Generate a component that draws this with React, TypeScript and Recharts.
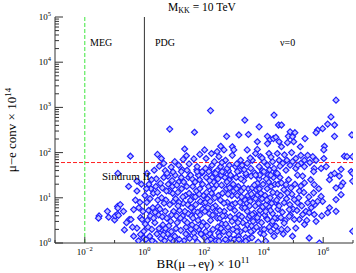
import { ReferenceLine, Scatter, ScatterChart, XAxis, YAxis } from "recharts";

// each point: [log10 BR(mu->e gamma) x 1e11, log10 (mu-e conv x 1e14)]
const points: [number, number][] = [
  // sparse left part
  [-1.52, 0.6], [-1.54, 0.55], [-1.24, 0.7], [-1.2, 0.57], [-1.0, 0.51], [-0.98, 0.6],
  [-0.9, 0.81], [-0.81, 0.85], [-0.9, 0.64], [-0.87, 0.61], [-0.7, 0.7], [-0.89, 0.77],
  [-0.53, 1.25], [-0.51, 0.52], [-0.67, 0.29], [-0.89, 1.54], [-0.47, 1.92],
  [-0.25, 1.15], [-0.19, 0.78], [-0.36, 0.74], [-0.13, 0.56], [-0.08, 0.52], [-0.25, 0.33],
  [-0.36, 0.15], [-0.13, 0.19], [-0.02, 0.26], [-0.45, 0.52], [-0.02, 0.11], [-0.25, 1.37],
  [-0.3, 0.95], [-0.15, 0.9], [-0.4, 0.35], [-0.05, 0.7], [-0.6, 0.45], [-0.1, 1.3], [-0.2, 0.05],
  // dense core
  [0.05, 0.08], [0.12, 0.35], [0.2, 0.6], [0.08, 0.9], [0.3, 1.1], [0.15, 1.3], [0.42, 0.2],
  [0.35, 0.45], [0.28, 0.78], [0.45, 0.95], [0.22, 1.2], [0.4, 1.42], [0.1, 0.5], [0.33, 0.02],
  [0.48, 0.62], [0.18, 0.15], [0.38, 1.25], [0.02, 1.05], [0.25, 0.3], [0.46, 0.8],
  [0.55, 0.1], [0.62, 0.4], [0.7, 0.7], [0.58, 1.0], [0.8, 1.3], [0.9, 0.25], [0.75, 0.55],
  [0.85, 0.85], [0.95, 1.1], [0.65, 1.45], [0.52, 0.75], [0.68, 0.05], [0.78, 0.2], [0.88, 0.48],
  [0.98, 0.7], [0.6, 1.22], [0.72, 0.95], [0.83, 1.15], [0.93, 1.38], [0.57, 0.3], [0.96, 0.05],
  [0.7, 1.6],
  [0.03, 0.42], [0.14, 0.72], [0.26, 0.05], [0.31, 0.55], [0.19, 0.98], [0.44, 1.12], [0.36, 0.68],
  [0.07, 1.2], [0.49, 0.32], [0.24, 1.4], [0.6, 0.58], [0.66, 0.88], [0.74, 1.15], [0.82, 0.38],
  [0.91, 0.62], [0.99, 0.92], [0.54, 1.32], [0.79, 1.48], [0.87, 0.1], [0.63, 0.18], [0.94, 1.25],
  [0.71, 0.32],
  [1.02, 0.15], [1.1, 0.45], [1.18, 0.72], [1.05, 0.98], [1.25, 1.2], [1.33, 0.05], [1.4, 0.35],
  [1.28, 0.6], [1.45, 0.85], [1.38, 1.05], [1.15, 1.35], [1.48, 1.45], [1.08, 0.6], [1.22, 0.28],
  [1.3, 0.88], [1.42, 1.25], [1.12, 1.12], [1.2, 0.02], [1.35, 0.5], [1.47, 0.65], [1.03, 1.5],
  [1.27, 1.62], [1.16, 0.9], [1.44, 0.18],
  [1.06, 0.32], [1.13, 0.82], [1.21, 0.55], [1.29, 1.02], [1.36, 0.7], [1.44, 0.45], [1.5, 1.1],
  [1.09, 1.28], [1.24, 1.45], [1.39, 0.2], [1.17, 0.08], [1.32, 1.35],
  [1.52, 0.1], [1.6, 0.4], [1.68, 0.7], [1.55, 0.95], [1.75, 1.15], [1.85, 1.4], [1.9, 0.2],
  [1.8, 0.5], [1.72, 0.85], [1.95, 0.75], [1.62, 1.25], [1.98, 1.05], [1.58, 0.6], [1.66, 0.22],
  [1.78, 0.02], [1.88, 0.92], [1.7, 1.35], [1.93, 1.55], [1.54, 1.5], [1.82, 0.3], [1.64, 1.02],
  [1.97, 0.45], [1.76, 1.62], [1.86, 1.2],
  [1.57, 0.78], [1.63, 0.55], [1.71, 1.02], [1.79, 0.68], [1.84, 1.08], [1.92, 0.38], [1.99, 0.88],
  [1.6, 1.42], [1.74, 0.35], [1.87, 0.62], [1.69, 0.12], [1.95, 1.3], [1.81, 1.5], [1.56, 0.3],
  [2.02, 0.12], [2.1, 0.38], [2.18, 0.65], [2.05, 0.9], [2.25, 1.1], [2.33, 1.35], [2.4, 0.05],
  [2.3, 0.3], [2.45, 0.55], [2.38, 0.82], [2.15, 1.25], [2.48, 1.05], [2.08, 1.45], [2.22, 0.5],
  [2.28, 0.78], [2.42, 1.28], [2.12, 0.98], [2.35, 1.55], [2.2, 0.2], [2.46, 0.35], [2.03, 0.7],
  [2.27, 1.45], [2.44, 1.6], [2.16, 1.62],
  [2.06, 0.25], [2.13, 0.78], [2.21, 0.92], [2.29, 0.62], [2.36, 1.0], [2.43, 0.7], [2.49, 0.22],
  [2.09, 1.12], [2.19, 1.38], [2.32, 1.2], [2.47, 1.42], [2.26, 0.12],
  [2.52, 0.15], [2.6, 0.42], [2.68, 0.7], [2.55, 0.95], [2.75, 1.2], [2.85, 1.4], [2.9, 0.1],
  [2.8, 0.35], [2.72, 0.6], [2.95, 0.85], [2.62, 1.1], [2.98, 1.3], [2.58, 1.5], [2.66, 0.25],
  [2.78, 0.9], [2.88, 0.58], [2.7, 1.45], [2.93, 1.05], [2.54, 0.55], [2.82, 1.6], [2.64, 0.02],
  [2.97, 0.3], [2.76, 0.05], [2.86, 1.22],
  [2.53, 0.72], [2.59, 1.28], [2.67, 0.88], [2.73, 0.42], [2.81, 1.08], [2.87, 0.78], [2.94, 0.48],
  [2.99, 1.15], [2.57, 0.32], [2.69, 1.58], [2.84, 0.2], [2.63, 0.6], [2.91, 1.48], [2.77, 1.35],
  [3.02, 0.08], [3.1, 0.35], [3.18, 0.62], [3.05, 0.88], [3.25, 1.15], [3.33, 1.38], [3.4, 0.12],
  [3.3, 0.45], [3.45, 0.7], [3.38, 0.95], [3.15, 1.25], [3.48, 1.2], [3.08, 1.45], [3.22, 0.25],
  [3.28, 0.78], [3.42, 1.5], [3.12, 1.05], [3.35, 0.02], [3.2, 1.6], [3.46, 0.4], [3.04, 0.55],
  [3.26, 1.02], [3.44, 0.88], [3.16, 0.15],
  [3.03, 0.72], [3.09, 1.2], [3.14, 0.45], [3.21, 0.9], [3.27, 0.58], [3.34, 1.22], [3.39, 0.3],
  [3.47, 1.05], [3.11, 0.25], [3.24, 1.42], [3.37, 0.78], [3.49, 0.55],
  [3.52, 0.1], [3.6, 0.38], [3.68, 0.66], [3.55, 0.92], [3.75, 1.18], [3.85, 1.42], [3.9, 0.22],
  [3.8, 0.5], [3.72, 0.82], [3.95, 0.98], [3.62, 1.22], [3.98, 1.3], [3.58, 1.48], [3.66, 0.28],
  [3.78, 1.05], [3.88, 0.72], [3.7, 1.55], [3.93, 0.45], [3.54, 0.6], [3.82, 0.02], [3.64, 1.02],
  [3.96, 1.6], [3.76, 0.35], [3.86, 1.2],
  [3.53, 0.82], [3.59, 1.08], [3.65, 0.48], [3.73, 0.98], [3.79, 1.32], [3.84, 0.62], [3.91, 1.1],
  [3.97, 0.8], [3.57, 0.25], [3.69, 1.28], [3.83, 0.88], [3.94, 0.3], [3.61, 0.12], [3.87, 1.5],
  [4.02, 0.3], [4.1, 0.55], [4.18, 0.8], [4.05, 1.05], [4.25, 1.25], [4.33, 1.45], [4.4, 0.9],
  [4.3, 0.65], [4.45, 1.1], [4.38, 1.3], [4.15, 1.5], [4.48, 0.75], [4.08, 0.85], [4.22, 1.0],
  [4.28, 0.42], [4.42, 1.55], [4.12, 1.2], [4.35, 0.15], [4.2, 1.62], [4.46, 0.55],
  [4.04, 0.62], [4.11, 0.95], [4.17, 1.35], [4.23, 0.72], [4.31, 1.12], [4.37, 0.55], [4.44, 0.95],
  [4.49, 1.3], [4.09, 1.42], [4.27, 0.88], [4.19, 0.35],
  [4.13, 0.52], [4.3, 0.48], [4.41, 0.37], [4.46, 0.26], [4.24, 0.26], [4.01, 0.19], [4.07, 0.04],
  [3.4, 0.04], [3.17, 0.08], [2.72, 0.08], [2.5, 0.04], [2.22, 0.08], [2.11, 0.04], [3.62, 0.63],
  [3.79, 0.56], [4.07, 0.7],
  [4.52, 0.82], [4.57, 1.05], [4.63, 0.68], [4.68, 1.18], [4.72, 0.5], [4.77, 0.98], [4.84, 1.4],
  [4.9, 0.62], [4.95, 1.08], [4.55, 1.45], [4.66, 0.2], [4.88, 0.85], [4.99, 0.75],
  [5.05, 1.3], [5.12, 0.72], [5.18, 1.0], [5.28, 0.82], [5.35, 1.12], [5.45, 0.5], [5.52, 1.02],
  [5.6, 0.78], [5.72, 0.85], [5.85, 1.2], [5.95, 0.6], [5.58, 1.4],
  // upper band, x 0..2
  [0.85, 2.52], [1.68, 2.45], [0.44, 1.96], [0.57, 1.87], [1.35, 2.08], [1.41, 1.93], [1.86, 1.96],
  [1.66, 1.86], [2.02, 2.06], [1.02, 1.8], [0.65, 1.76], [0.33, 1.61], [0.09, 1.54], [0.96, 1.57],
  [1.24, 1.58], [1.43, 1.61], [1.77, 1.58], [0.76, 1.54], [1.55, 1.5], [1.94, 1.58], [1.77, 1.69],
  [0.5, 1.7], [0.9, 1.68], [1.15, 1.72], [1.5, 1.75], [1.3, 1.85],
  // upper band, x 2..4.6
  [2.22, 2.93], [4.35, 2.83], [3.37, 2.72], [3.85, 2.57], [4.5, 2.61], [2.76, 2.36], [3.17, 2.39],
  [3.49, 2.4], [4.13, 2.36], [4.22, 2.29], [4.33, 2.31], [4.41, 2.34], [3.79, 2.24], [4.13, 2.2],
  [4.52, 2.24], [2.56, 2.14], [2.95, 2.13], [3.0, 2.06], [3.45, 2.06], [3.79, 2.07], [2.25, 1.98],
  [2.44, 2.02], [2.67, 2.06], [2.95, 1.94], [3.73, 1.98], [3.9, 1.91], [4.18, 1.98], [4.46, 1.98],
  [2.07, 1.87], [2.5, 1.91], [2.72, 1.83], [3.23, 1.83], [3.45, 1.76], [3.62, 1.83], [4.01, 1.8],
  [4.3, 1.8], [4.52, 1.83], [2.27, 1.72], [2.56, 1.69], [2.78, 1.65], [3.06, 1.69], [3.28, 1.72],
  [3.57, 1.65], [3.85, 1.69], [4.13, 1.72], [4.35, 1.65], [2.16, 1.58], [2.39, 1.54], [2.61, 1.58],
  [2.89, 1.5], [3.12, 1.58], [3.4, 1.54], [3.73, 1.5], [4.01, 1.58], [4.24, 1.5], [4.46, 1.54],
  [2.05, 1.65], [2.35, 1.8], [2.6, 1.78], [2.85, 1.72], [3.1, 1.75], [3.35, 1.62], [3.55, 1.88],
  [3.95, 1.88], [4.25, 1.9],
  // right part, x 4.6..7
  [6.26, 2.79], [6.38, 2.61], [6.15, 2.63], [5.98, 2.53], [5.81, 2.5], [5.76, 2.44], [6.38, 2.36],
  [4.6, 2.61], [4.89, 2.46], [5.05, 2.44], [4.83, 2.36], [4.97, 2.35], [5.01, 2.24], [5.39, 2.31],
  [4.8, 2.22], [5.23, 2.13], [6.04, 2.14], [6.02, 2.06], [4.94, 2.0], [4.6, 2.13], [6.96, 2.39],
  [5.48, 1.94], [5.65, 1.91], [5.25, 1.94], [5.08, 1.87], [4.78, 1.83], [4.97, 1.8], [5.37, 1.83],
  [5.76, 1.83], [6.02, 1.87], [6.71, 1.92], [6.8, 1.91], [6.99, 1.91], [4.64, 1.76], [4.89, 1.72],
  [5.25, 1.76], [5.7, 1.65], [5.93, 1.65], [6.1, 1.69], [6.6, 1.63], [6.94, 1.58], [5.68, 1.58],
  [5.37, 1.69], [5.08, 1.65], [4.75, 1.61], [5.14, 1.5], [6.26, 1.5], [6.38, 1.54], [6.54, 1.48],
  [5.31, 1.48], [6.43, 3.16], [6.99, 1.54], [4.55, 1.7], [4.7, 1.95], [5.15, 1.72], [5.55, 1.78],
  [6.21, 1.4], [6.66, 1.33], [6.6, 1.26], [6.99, 1.37], [5.7, 1.29], [6.43, 1.22], [4.6, 1.33],
  [4.75, 1.29], [4.92, 1.22], [4.8, 1.11], [5.25, 1.26], [5.37, 1.33], [5.2, 1.15], [5.68, 1.11],
  [5.93, 1.03], [6.6, 1.07], [6.43, 0.96], [5.98, 0.92], [5.81, 0.92], [5.65, 0.89], [5.48, 0.89],
  [5.03, 0.96], [5.14, 0.89], [4.69, 0.89], [4.86, 0.74], [6.21, 0.78], [6.15, 0.67], [6.43, 0.7],
  [5.42, 0.7], [5.53, 0.67], [5.7, 0.63], [5.31, 0.63], [5.2, 0.52], [5.03, 0.52], [4.69, 0.44],
  [5.76, 0.48], [5.37, 0.41], [5.08, 0.33], [4.8, 0.3], [4.6, 0.3], [4.97, 0.15], [5.53, 0.11],
  [5.87, 0.0], [6.99, 0.26], [4.58, 0.56], [4.86, 0.59],
];

const xDecades = [-3, -2, -1, 0, 1, 2, 3, 4, 5, 6, 7];
const yDecades = [0, 1, 2, 3, 4, 5];
const megLimit = -2; // log10 of MEG bound
const pdgLimit = 0; // log10 of PDG bound
const sindrumLimit = 1.78; // log10 of Sindrum II bound

const W = 356;
const H = 273;
const FONT = "'Liberation Serif', 'DejaVu Serif', serif";
const FRAME = "#333";

const data = points.map(([x, y]) => ({ x, y }));
const yTicks: number[] = [];
yDecades.forEach((d) => {
  yTicks.push(d);
  if (d < 5) for (let k = 2; k <= 9; k++) yTicks.push(d + Math.log10(k));
});

const fmtExp = (n: number) => (n < 0 ? `\u2212${-n}` : `${n}`);

function Pow({ x, y, exp, anchor }: { x: number; y: number; exp: number; anchor: "middle" | "end" }) {
  return (
    <text x={x} y={y} textAnchor={anchor} fontFamily={FONT} fontSize={9} fill="#000">
      10
      <tspan dy={-4} fontSize={6.5}>
        {fmtExp(exp)}
      </tspan>
    </text>
  );
}

function BottomTick(props: any) {
  const { x, y, payload } = props;
  const v = payload.value as number;
  const major = v % 2 === 0;
  return (
    <g>
      <line x1={x} y1={y} x2={x} y2={y - (major ? 6 : 3)} stroke={FRAME} />
      {major && <Pow x={x} y={y + 12} exp={v} anchor="middle" />}
    </g>
  );
}

function TopTick(props: any) {
  const { x, y, payload } = props;
  const major = (payload.value as number) % 2 === 0;
  return <line x1={x} y1={y} x2={x} y2={y + (major ? 6 : 3)} stroke={FRAME} />;
}

function LeftTick(props: any) {
  const { x, y, payload } = props;
  const v = payload.value as number;
  const major = Number.isInteger(v);
  return (
    <g>
      <line x1={x} y1={y} x2={x + (major ? 8 : 4)} y2={y} stroke={FRAME} />
      {major && <Pow x={x - 4} y={y + 3} exp={v} anchor="end" />}
    </g>
  );
}

function RightTick(props: any) {
  const { x, y, payload } = props;
  const major = Number.isInteger(payload.value);
  return <line x1={x} y1={y} x2={x - (major ? 8 : 4)} y2={y} stroke={FRAME} />;
}

function Diamond(props: any) {
  const { cx, cy } = props;
  const r = 3;
  return (
    <path
      d={`M${cx},${cy - r}L${cx + r},${cy}L${cx},${cy + r}L${cx - r},${cy}Z`}
      fill="#c4c4ff"
      stroke="#1f1fff"
      strokeWidth={1.2}
    />
  );
}

export default function App() {
  return (
    <div style={{ position: "relative", width: W, height: H, background: "#fff" }}>
      <style>{`body{margin:0}`}</style>
      <ScatterChart width={W} height={H} margin={{ top: 17, right: 3, bottom: 0, left: 0 }}>
        <XAxis
          xAxisId="b"
          type="number"
          dataKey="x"
          domain={[-3, 7]}
          ticks={xDecades}
          interval={0}
          allowDataOverflow
          height={30}
          tickSize={0}
          tickMargin={0}
          tick={BottomTick}
          axisLine={{ stroke: FRAME }}
        />
        <XAxis
          xAxisId="t"
          orientation="top"
          type="number"
          domain={[-3, 7]}
          ticks={xDecades}
          interval={0}
          allowDataOverflow
          height={0}
          tickSize={0}
          tickMargin={0}
          tick={TopTick}
          axisLine={{ stroke: FRAME }}
        />
        <YAxis
          yAxisId="l"
          type="number"
          dataKey="y"
          domain={[0, 5]}
          ticks={yTicks}
          interval={0}
          allowDataOverflow
          width={55}
          tickSize={0}
          tickMargin={0}
          tick={LeftTick}
          axisLine={{ stroke: FRAME }}
        />
        <YAxis
          yAxisId="r"
          orientation="right"
          type="number"
          domain={[0, 5]}
          ticks={yTicks}
          interval={0}
          allowDataOverflow
          width={0}
          tickSize={0}
          tickMargin={0}
          tick={RightTick}
          axisLine={{ stroke: FRAME }}
        />
        <ReferenceLine xAxisId="b" yAxisId="l" x={megLimit} stroke="#3de63d" strokeDasharray="4 2" />
        <ReferenceLine xAxisId="b" yAxisId="l" x={pdgLimit} stroke="#333" />
        <Scatter
          xAxisId="b"
          yAxisId="l"
          data={data}
          shape={Diamond}
          isAnimationActive={false}
        />
        <ReferenceLine xAxisId="b" yAxisId="l" y={sindrumLimit} stroke="#ff2020" strokeDasharray="4 2" />
      </ScatterChart>
      <svg
        width={W}
        height={H}
        style={{ position: "absolute", left: 0, top: 0, pointerEvents: "none" }}
        fontFamily={FONT}
      >
        <text x={202} y={11} textAnchor="middle" fontSize={11.5}>
          M<tspan dy={2} fontSize={8}>KK</tspan>
          <tspan dy={-2}> = 10 TeV</tspan>
        </text>
        <text x={90} y={46} fontSize={10}>MEG</text>
        <text x={155} y={46} fontSize={10}>PDG</text>
        <text x={280} y={46} fontSize={10}>{"\u03bd=0"}</text>
        <text x={102} y={180} fontSize={11}>Sindrum II</text>
        <text x={203} y={268} textAnchor="middle" fontSize={13}>
          {"BR(\u03bc\u2192e\u03b3) \u00d7 10"}
          <tspan dy={-5} fontSize={9}>11</tspan>
        </text>
        <text transform="translate(16,130) rotate(-90)" textAnchor="middle" fontSize={13}>
          {"\u03bc\u2212e conv \u00d7 10"}
          <tspan dy={-5} fontSize={9}>14</tspan>
        </text>
      </svg>
    </div>
  );
}
